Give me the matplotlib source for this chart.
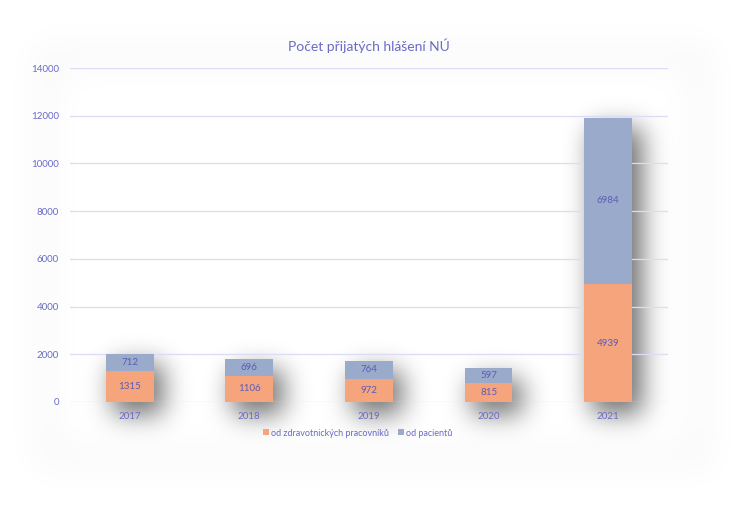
import numpy as np
import matplotlib.pyplot as plt

# data ---------------------------------------------------------------------
years = ["2017", "2018", "2019", "2020", "2021"]
od_zdravotniku = [1315, 1106, 972, 815, 4939]
od_pacientu = [712, 696, 764, 597, 6984]
series_names = ["od zdravotnických pracovníků", "od pacientů"]

c_orange = "#F6A47C"
c_blue = "#99AACB"
c_text = "#6A6AC8"
c_label = "#5C5CB4"
c_grid = "#DCDCF4"

plt.rcParams['font.family'] = ['Lato', 'DejaVu Sans']

W, H = 746, 513
fig = plt.figure(figsize=(W/100, H/100), dpi=100)
fig.patch.set_facecolor("white")

ax = fig.add_axes([0.0938, 0.2164, 0.8016, 0.651])
ax.set_facecolor("none")

x = np.arange(len(years))
w = 0.40
bottom = np.array(od_zdravotniku)
tot = bottom + np.array(od_pacientu)

ax.set_xlim(-0.5, len(years) - 0.5)
ax.set_ylim(0, 14000)
ax.set_yticks(np.arange(0, 14001, 2000))


def blur(img, sigma):
    r = int(3 * sigma)
    k = np.exp(-0.5 * (np.arange(-r, r + 1) / sigma) ** 2)
    k /= k.sum()
    img = np.apply_along_axis(lambda v: np.convolve(v, k, mode="same"), 0, img)
    img = np.apply_along_axis(lambda v: np.convolve(v, k, mode="same"), 1, img)
    return img


# soft shadows (bars + faint halo around the chart), pixel space
mask = np.zeros((H, W))
for xi, t in zip(x, tot):
    (x0, y0) = ax.transData.transform((xi - w/2, 0))
    (x1, y1) = ax.transData.transform((xi + w/2, t))
    mask[int(y0) - 12:int(y1) - 10, int(x0) + 8:int(x1) + 10] = 1.0
shade = blur(mask, 13) * 0.58

halo = np.zeros((H, W))
halo[45:H - 45, 35:W - 35] = 1.0
halo = blur(halo, 18)
halo = np.clip(halo - blur(np.pad(np.ones((H - 130, W - 110)), ((65, 65), (55, 55))), 18), 0, 1) * 0.035

alpha = np.clip(shade + halo, 0, 1)
rgba = np.zeros((H, W, 4))
rgba[..., 3] = alpha
fig.figimage(rgba, origin="lower", zorder=-1)

for yv in ax.get_yticks():
    ax.axhline(yv, color=c_grid, lw=0.9, zorder=1)

b1 = ax.bar(x, od_zdravotniku, w, color=c_orange, label=series_names[0], zorder=2)
b2 = ax.bar(x, od_pacientu, w, bottom=bottom, color=c_blue, label=series_names[1], zorder=2)
ax.bar_label(b1, label_type="center", color=c_label, fontsize=7)
ax.bar_label(b2, label_type="center", color=c_label, fontsize=7)

ax.set_xticks(x, years)
for s in ax.spines.values():
    s.set_visible(False)
ax.tick_params(length=0, colors=c_text, labelsize=7)
ax.tick_params(axis="y", pad=8)
ax.tick_params(axis="x", pad=7)

ax.set_title("Počet přijatých hlášení NÚ", color=c_text, fontsize=10, pad=12)

fig.legend(handles=[b1, b2], loc="center", bbox_to_anchor=(358/746, 1 - 433/513),
           ncol=2, frameon=False, fontsize=6.5, labelcolor=c_text,
           handlelength=0.6, handleheight=0.6, handletextpad=0.3, columnspacing=1.0)

fig.savefig("out.png", dpi=100)
